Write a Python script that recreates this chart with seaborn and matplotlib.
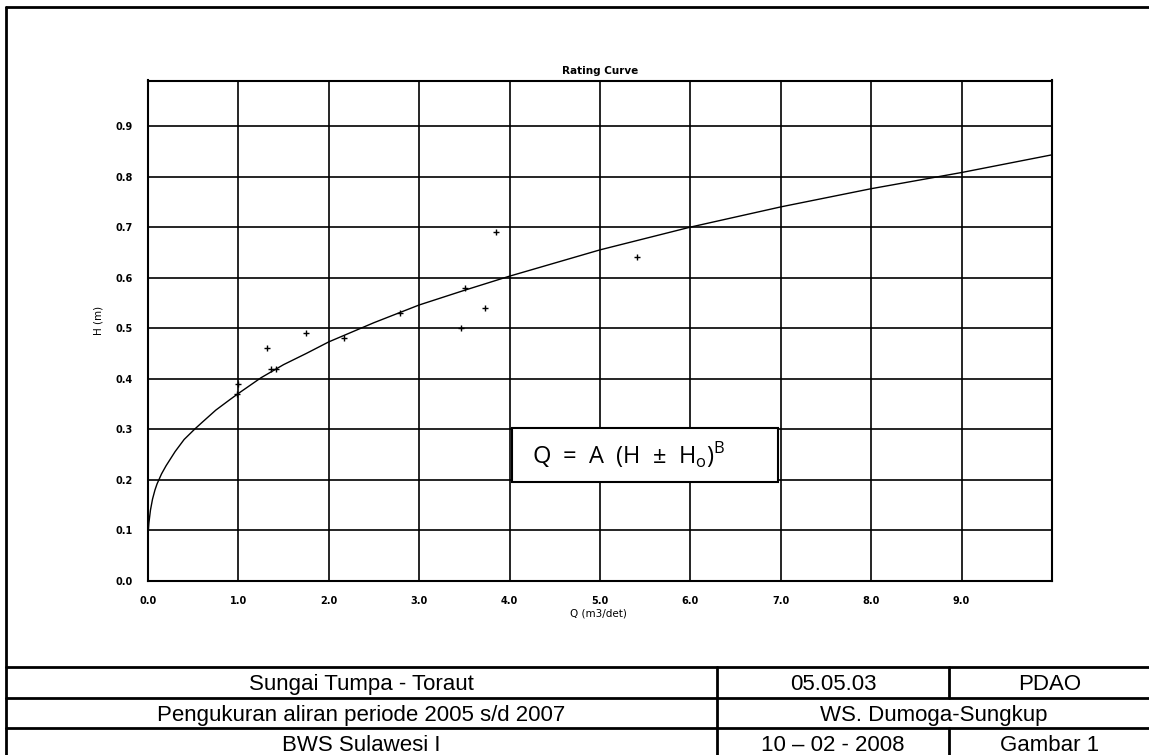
import matplotlib
matplotlib.use("Agg")
import matplotlib.pyplot as plt
import seaborn as sns
import pandas as pd
from matplotlib.lines import Line2D
from matplotlib.patches import Rectangle

# Data pengukuran (titik ukur)
q_ukur = [0.98, 1.00, 1.32, 1.36, 1.42, 1.75, 2.17, 2.79, 3.46, 3.51, 3.73, 3.85, 5.41]
h_ukur = [0.37, 0.39, 0.46, 0.42, 0.42, 0.49, 0.48, 0.53, 0.50, 0.58, 0.54, 0.69, 0.64]

# Lengkung debit
q_kurva = [0.005, 0.01, 0.027, 0.05, 0.077, 0.1, 0.15, 0.2, 0.3, 0.4, 0.52, 0.6, 0.75, 0.9,
           1.0, 1.25, 1.5, 1.75, 2.0, 2.5, 3.0, 3.5, 4.0, 5.0, 6.0, 7.0, 8.0, 9.0, 10.0]
h_kurva = [0.103, 0.115, 0.140, 0.162, 0.180, 0.192, 0.212, 0.228, 0.256, 0.280, 0.301, 0.314,
           0.338, 0.358, 0.371, 0.402, 0.428, 0.450, 0.473, 0.511, 0.546, 0.575, 0.603, 0.655,
           0.700, 0.740, 0.776, 0.808, 0.843]

x_ticks = [0, 1, 2, 3, 4, 5, 6, 7, 8, 9]
y_ticks = [0.0, 0.1, 0.2, 0.3, 0.4, 0.5, 0.6, 0.7, 0.8, 0.9]

tabel = [
    ("Sungai Tumpa - Toraut", "05.05.03", "PDAO"),
    ("Pengukuran aliran periode 2005 s/d 2007", "WS. Dumoga-Sungkup", None),
    ("BWS Sulawesi I", "10 \u2013 02 - 2008", "Gambar 1"),
]

W, H = 1149, 755
sns.set_theme(style="white")
plt.rcParams['font.family'] = ['DejaVu Sans']
plt.rcParams['text.color'] = 'black'
plt.rcParams['axes.labelcolor'] = 'black'


def fx(x):
    return x / W


def fy(y):
    return 1 - y / H


fig = plt.figure(figsize=(W / 100, H / 100), dpi=100)
ax = fig.add_axes([fx(148), fy(581), (1052 - 148) / W, (581 - 80.5) / H])

df_kurva = pd.DataFrame({"Q": q_kurva, "H": h_kurva})
df_ukur = pd.DataFrame({"Q": q_ukur, "H": h_ukur})

sns.lineplot(data=df_kurva, x="Q", y="H", ax=ax, color="black", lw=1.0,
             estimator=None, sort=True)
sns.scatterplot(data=df_ukur, x="Q", y="H", ax=ax, marker="+", s=16,
                color="black", linewidth=1.0, zorder=3)

ax.set_xlim(0, 10)
ax.set_ylim(0, 0.99)
ax.set_xticks(x_ticks)
ax.set_yticks(y_ticks)
ax.set_xticklabels([f"{v:.1f}" for v in x_ticks])
ax.set_yticklabels([f"{v:.1f}" for v in y_ticks])
ax.grid(True, color="black", lw=1.2)
for s in ax.spines.values():
    s.set_color("black")
    s.set_linewidth(1.5)
ax.tick_params(direction="out", length=3, width=1.2, colors="black", pad=8, labelsize=7)
for lab in ax.get_xticklabels() + ax.get_yticklabels():
    lab.set_fontweight("bold")

ax.set_title("Rating Curve", fontsize=7.5, fontweight="bold", pad=5, color="black")
ax.set_xlabel("Q (m3/det)", fontsize=7.5)
ax.set_ylabel("H (m)", fontsize=7.5)
ax.xaxis.set_label_coords(0.498, -0.054)
ax.yaxis.set_label_coords(-0.049, 0.52)

# Kotak rumus
fig.add_artist(Rectangle((fx(512), fy(482)), (778 - 512) / W, (482 - 428) / H,
                         transform=fig.transFigure, fc="white", ec="black", lw=1.5))
fig.text(fx(532), fy(456), "Q  =  A  (H  \u00b1  H$_{\\mathregular{o}}$)$^{\\mathregular{B}}$",
         fontsize=17, family="Open Sans", ha="left", va="center")

# Bingkai dan tabel keterangan
garis = [
    ((6, 6), (7, 755)),
    ((6, W), (7, 7)),
    ((6, W), (667, 667)),
    ((6, W), (698, 698)),
    ((6, W), (728, 728)),
    ((717, 717), (667, 755)),
    ((949, 949), (667, 698)),
    ((949, 949), (728, 755)),
]
for (x0, x1), (y0, y1) in garis:
    fig.add_artist(Line2D([fx(x0), fx(x1)], [fy(y0), fy(y1)], color="black", lw=2,
                          transform=fig.transFigure))

baris_y = [690, 721, 751]
for (c1, c2, c3), yb in zip(tabel, baris_y):
    fig.text(fx(361.5), fy(yb), c1, ha="center", va="baseline", fontsize=16,
             family="Liberation Sans")
    if c3 is None:
        fig.text(fx(934), fy(yb), c2, ha="center", va="baseline", fontsize=16,
                 family="Liberation Sans")
    else:
        fig.text(fx(833), fy(yb), c2, ha="center", va="baseline", fontsize=16,
                 family="Liberation Sans")
        fig.text(fx(1050), fy(yb), c3, ha="center", va="baseline", fontsize=16,
                 family="Liberation Sans")

fig.savefig("out.png", dpi=100)
